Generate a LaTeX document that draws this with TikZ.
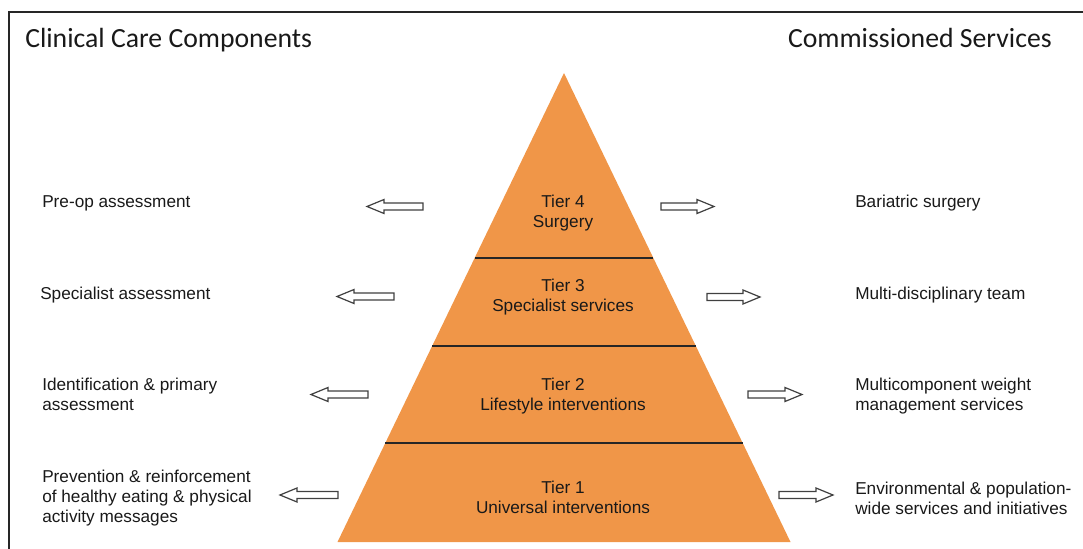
\documentclass[tikz,border=0pt]{standalone}
\usepackage{fontspec}
\setmainfont{Liberation Sans}
\newfontfamily\titlefont{Carlito}
\usetikzlibrary{calc}
\definecolor{tierorange}{RGB}{240,150,72}
\definecolor{inktext}{RGB}{25,25,25}
\begin{document}
\begin{tikzpicture}[x=0.75pt,y=-0.75pt,
  bodyfont/.style={font=\fontsize{12.9}{15}\selectfont, text=inktext},
  tier/.style={bodyfont, align=center, inner sep=0pt, anchor=base},
  sidelabel/.style={bodyfont, align=left, inner sep=0pt, anchor=base west},
  heading/.style={font=\titlefont\fontsize{20.8}{25}\selectfont, text=inktext, inner sep=0pt},
  arrowline/.style={draw=black!75, line width=0.9pt, fill=white, line join=miter},
  divider/.style={draw=black!85, line width=1.1pt},
  frameline/.style={draw=black!85, line width=1.1pt},
  hollow arrow/.pic={
    \path[arrowline] (0,3.5) -- (#1-17,3.5) -- (#1-17,7) -- (#1,0)
      -- (#1-17,-7) -- (#1-17,-3.5) -- (0,-3.5) -- cycle;}
]
\useasboundingbox (0,0) rectangle (1083,549);

% frame (top and left edges)
\draw[frameline] (1083,12) -- (9,12) -- (9,549);

% headings
\node[heading, anchor=base west] (leftTitle) at (25,48) {Clinical Care Components};
\node[heading, anchor=base east] (rightTitle) at (1052,48) {Commissioned Services};

% pyramid
\coordinate (apex) at (564,73);
\coordinate (bl) at (337.5,542);
\coordinate (br) at (790.5,542);
\fill[tierorange] (apex) -- (br) -- (bl) -- cycle;
\foreach \f in {0.3945,0.5821,0.7889}
  \draw[divider] ($(apex)!\f!(bl)$) -- ($(apex)!\f!(br)$);

% tier labels (positioned by the baseline of their last line)
\node[tier] (t4) at (563,228) {Tier 4\\Surgery};
\node[tier] (t3) at (563,311) {Tier 3\\Specialist services};
\node[tier] (t2) at (563,411) {Tier 2\\Lifestyle interventions};
\node[tier] (t1) at (563,513) {Tier 1\\Universal interventions};

% clinical care components
\node[sidelabel] (c4) at (42,208) {Pre-op assessment};
\node[sidelabel] (c3) at (40,300) {Specialist assessment};
\node[sidelabel] (c2) at (42,410) {Identification \& primary\\assessment};
\node[sidelabel] (c1) at (42,522) {Prevention \& reinforcement\\of healthy eating \& physical\\activity messages};

% commissioned services
\node[sidelabel] (s4) at (855,208) {Bariatric surgery};
\node[sidelabel] (s3) at (855,300) {Multi-disciplinary team};
\node[sidelabel] (s2) at (855,410) {Multicomponent weight\\management services};
\node[sidelabel] (s1) at (855,514) {Environmental \& population-\\wide services and initiatives};

% outward arrows
\pic[xscale=-1] at (423,206.5) {hollow arrow=56};
\pic[xscale=-1] at (394,296.5) {hollow arrow=57};
\pic[xscale=-1] at (368,394.5) {hollow arrow=57};
\pic[xscale=-1] at (338,495) {hollow arrow=58};
\pic at (661,206.5) {hollow arrow=53};
\pic at (707,297) {hollow arrow=53};
\pic at (748,394.5) {hollow arrow=54};
\pic at (779,495) {hollow arrow=54};
\end{tikzpicture}
\end{document}
